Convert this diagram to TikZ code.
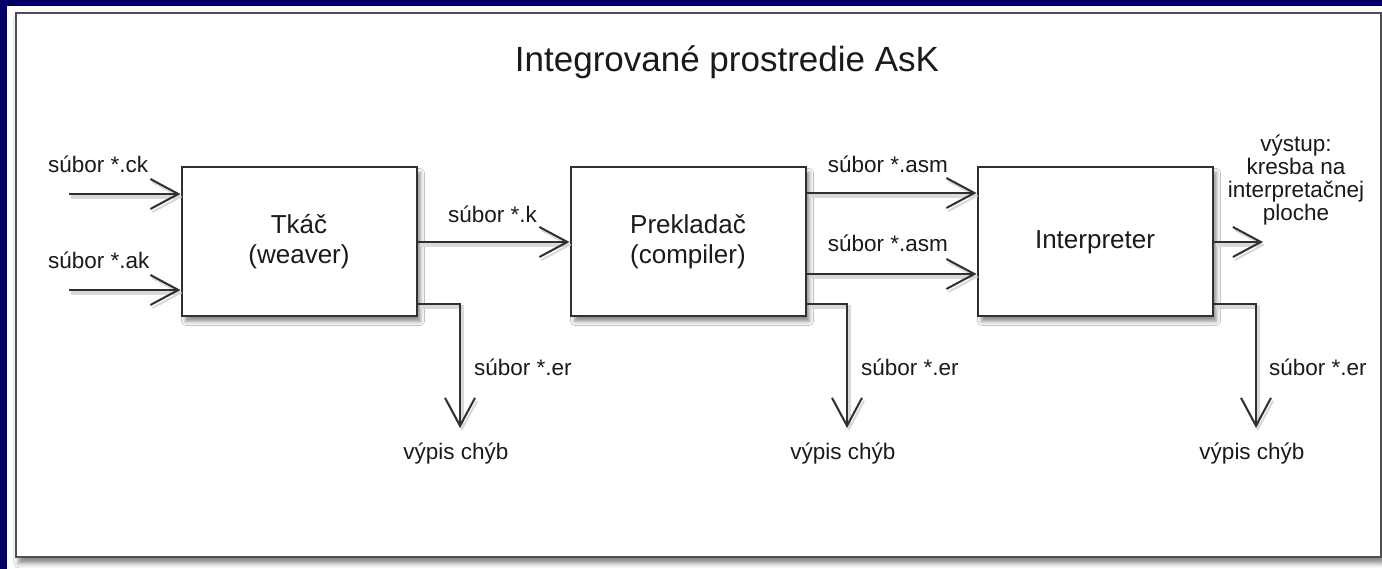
\documentclass[tikz,border=0pt]{standalone}
\usepackage{fontspec}
\setmainfont{Liberation Sans}
\usetikzlibrary{arrows.meta,shadows.blur}

\definecolor{askNavy}{HTML}{000066}
\definecolor{askLine}{HTML}{303030}
\definecolor{askText}{HTML}{1A1A1A}

\tikzset{
  blk/.style={draw=askLine, line width=2pt, fill=white, minimum width=235pt,
    minimum height=149pt, align=center, text=askText,
    font=\fontsize{26}{30}\selectfont,
    blur shadow={shadow xshift=4pt, shadow yshift=-5pt, shadow opacity=45, shadow blur radius=4pt}},
  lbl/.style={inner sep=0pt, text=askText, font=\fontsize{22.5}{23}\selectfont},
  flow/.style={draw=askLine, line width=2pt, -{Straight Barb[length=28pt,width=30pt,line width=2pt]},
    preaction={draw=black!15, line width=4pt, transform canvas={shift={(2pt,-3pt)}}}},
}

\begin{document}
\begin{tikzpicture}[x=1pt,y=1pt]
% background and frame
\fill[askNavy] (0,0) rectangle (1382,569);
\fill[white] (7,0) rectangle (1382,563);
\draw[askLine!85, line width=2pt, fill=white,
  blur shadow={shadow xshift=3pt, shadow yshift=-6pt, shadow opacity=50, shadow blur radius=5pt}]
  (16,12) rectangle (1381,556);

\node[lbl, anchor=base, font=\fontsize{35}{40}\selectfont] (title) at (727,497) {Integrované prostredie AsK};

% the three blocks
\node[blk] (tkac) at (299,327) {Tkáč\\(weaver)};
\node[blk] (prekl) at (688,327) {Prekladač\\(compiler)};
\node[blk] (interp) at (1095,327) {Interpreter};

% free ends
\coordinate (ckIn) at (69,375);
\coordinate (akIn) at (69,279);
\coordinate (outEnd) at (1263,327);
\coordinate (tkacErr) at (460,141);
\coordinate (preklErr) at (847,141);
\coordinate (interpErr) at (1256,141);

% inputs
\draw[flow] (ckIn) -- (ckIn -| tkac.west);
\draw[flow] (akIn) -- (akIn -| tkac.west);
\node[lbl, anchor=base west] (ckLbl) at (48,396) {súbor *.ck};
\node[lbl, anchor=base west] (akLbl) at (48,300) {súbor *.ak};

% between blocks
\draw[flow] (tkac.east) -- (prekl.west);
\node[lbl, anchor=base east] (kLbl) at (537,346) {súbor *.k};
\draw[flow] ([yshift=49pt]prekl.east) -- ([yshift=49pt]interp.west);
\draw[flow] ([yshift=-32pt]prekl.east) -- ([yshift=-32pt]interp.west);
\node[lbl, anchor=base east] (asmLbl) at (948,396) {súbor *.asm};
\node[lbl, anchor=base east] (asmLblB) at (948,317) {súbor *.asm};

% output
\draw[flow] (interp.east) -- (outEnd);
\node[lbl, align=center, font=\fontsize{22.5}{23}\selectfont] (outLbl) at (1296,389)
  {výstup:\\kresba na\\interpretačnej\\ploche};

% error listings
\draw[flow] ([yshift=13pt]tkac.south east) -| (tkacErr);
\draw[flow] ([yshift=13pt]prekl.south east) -| (preklErr);
\draw[flow] ([yshift=13pt]interp.south east) -| (interpErr);
\node[lbl, anchor=base west] (tkacErLbl) at (474,193) {súbor *.er};
\node[lbl, anchor=base west] (preklErLbl) at (861,193) {súbor *.er};
\node[lbl, anchor=base west] (interpErLbl) at (1269,193) {súbor *.er};
\node[lbl, anchor=base] (tkacOut) at (456,109) {výpis chýb};
\node[lbl, anchor=base] (preklOut) at (843,109) {výpis chýb};
\node[lbl, anchor=base] (interpOut) at (1252,109) {výpis chýb};
\end{tikzpicture}
\end{document}
